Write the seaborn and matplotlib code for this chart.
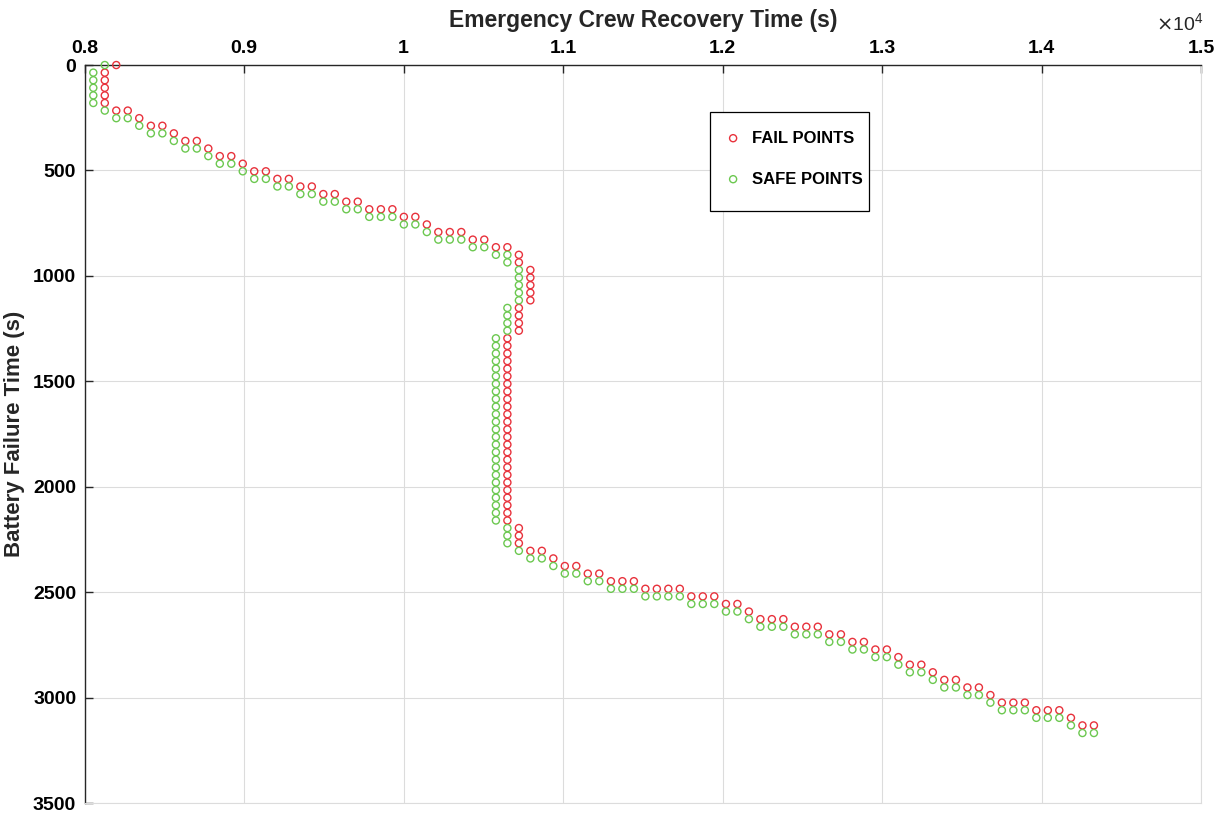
import numpy as np
import pandas as pd
import matplotlib
matplotlib.use('Agg')
import matplotlib.pyplot as plt
import matplotlib.patches as mpatches
import seaborn as sns

# 读图得到的边界点 (s)
fail_x = [8199, 8127, 8127, 8127, 8127, 8127,
          8199, 8271, 8343, 8416, 8488, 8560, 8632, 8704, 8776, 8848, 8920, 8992,
          9064, 9137, 9209, 9281, 9353, 9425, 9497, 9569, 9641, 9713, 9785, 9858,
          9930, 10002, 10074, 10146, 10218, 10290, 10362, 10434, 10506, 10579,
          10651, 10723, 10723,
          10795, 10795, 10795, 10795, 10795,
          10723, 10723, 10723, 10723,
          10651, 10651, 10651, 10651, 10651, 10651, 10651, 10651, 10651, 10651,
          10651, 10651, 10651, 10651, 10651, 10651, 10651, 10651, 10651, 10651,
          10651, 10651, 10651, 10651, 10651,
          10723, 10723, 10723,
          10795, 10867, 10939, 11011, 11083, 11155, 11227, 11300, 11372, 11444,
          11516, 11588, 11660, 11732, 11804, 11876, 11948, 12021, 12093, 12165,
          12237, 12309, 12381, 12453, 12525, 12597, 12669, 12742, 12814, 12886,
          12958, 13030, 13102, 13174, 13246, 13318, 13390, 13463, 13535, 13607,
          13679, 13751, 13823, 13895, 13967, 14039, 14111, 14184, 14256, 14328]
fail_y = [0, 36, 72, 108, 144, 180,
          216, 216, 252, 288, 288, 324, 360, 360, 396, 432, 432, 468,
          504, 504, 540, 540, 576, 576, 612, 612, 648, 648, 684, 684,
          684, 720, 720, 756, 792, 792, 792, 828, 828, 864,
          864, 900, 936,
          972, 1008, 1044, 1080, 1116,
          1152, 1188, 1224, 1260,
          1296, 1332, 1368, 1404, 1440, 1476, 1512, 1548, 1584, 1620,
          1656, 1692, 1728, 1764, 1800, 1836, 1872, 1908, 1944, 1980,
          2016, 2052, 2088, 2124, 2160,
          2196, 2232, 2268,
          2304, 2304, 2340, 2376, 2376, 2412, 2412, 2448, 2448, 2448,
          2484, 2484, 2484, 2484, 2520, 2520, 2520, 2556, 2556, 2592,
          2628, 2628, 2628, 2664, 2664, 2664, 2700, 2700, 2736, 2736,
          2772, 2772, 2808, 2844, 2844, 2880, 2916, 2916, 2952, 2952,
          2988, 3024, 3024, 3024, 3060, 3060, 3060, 3096, 3132, 3132]

safe_x = [8127, 8055, 8055, 8055, 8055, 8055, 8127,
          8199, 8271, 8343, 8416, 8488, 8560, 8632, 8704, 8776, 8848, 8920, 8992,
          9064, 9137, 9209, 9281, 9353, 9425, 9497, 9569, 9641, 9713, 9785, 9858,
          9930, 10002, 10074, 10146, 10218, 10290, 10362, 10434, 10506, 10579,
          10651, 10651,
          10723, 10723, 10723, 10723, 10723,
          10651, 10651, 10651, 10651,
          10579, 10579, 10579, 10579, 10579, 10579, 10579, 10579, 10579, 10579,
          10579, 10579, 10579, 10579, 10579, 10579, 10579, 10579, 10579, 10579,
          10579, 10579, 10579, 10579, 10579,
          10651, 10651, 10651,
          10723, 10795, 10867, 10939, 11011, 11083, 11155, 11227, 11300, 11372,
          11444, 11516, 11588, 11660, 11732, 11804, 11876, 11948, 12021, 12093,
          12165, 12237, 12309, 12381, 12453, 12525, 12597, 12669, 12742, 12814,
          12886, 12958, 13030, 13102, 13174, 13246, 13318, 13390, 13463, 13535,
          13607, 13679, 13751, 13823, 13895, 13967, 14039, 14111, 14184, 14256,
          14328]
safe_y = [0, 36, 72, 108, 144, 180, 216,
          252, 252, 288, 324, 324, 360, 396, 396, 432, 468, 468, 504,
          540, 540, 576, 576, 612, 612, 648, 648, 684, 684, 720, 720,
          720, 756, 756, 792, 828, 828, 828, 864, 864, 900,
          900, 936,
          972, 1008, 1044, 1080, 1116,
          1152, 1188, 1224, 1260,
          1296, 1332, 1368, 1404, 1440, 1476, 1512, 1548, 1584, 1620,
          1656, 1692, 1728, 1764, 1800, 1836, 1872, 1908, 1944, 1980,
          2016, 2052, 2088, 2124, 2160,
          2196, 2232, 2268,
          2304, 2340, 2340, 2376, 2412, 2412, 2448, 2448, 2484, 2484,
          2484, 2520, 2520, 2520, 2520, 2556, 2556, 2556, 2592, 2592,
          2628, 2664, 2664, 2664, 2700, 2700, 2700, 2736, 2736, 2772,
          2772, 2808, 2808, 2844, 2880, 2880, 2916, 2952, 2952, 2988,
          2988, 3024, 3060, 3060, 3060, 3096, 3096, 3096, 3132, 3168,
          3168]

x_ticks = [8000, 9000, 10000, 11000, 12000, 13000, 14000, 15000]
x_tick_labels = ['0.8', '0.9', '1', '1.1', '1.2', '1.3', '1.4', '1.5']
y_ticks = [0, 500, 1000, 1500, 2000, 2500, 3000, 3500]

sns.set_style('white')
plt.rcParams['font.family'] = ['Liberation Sans', 'DejaVu Sans']

df_fail = pd.DataFrame({'x': fail_x, 'y': fail_y})
df_safe = pd.DataFrame({'x': safe_x, 'y': safe_y})

fig = plt.figure(figsize=(12.25, 8.14), dpi=100)
ax = fig.add_axes([0.069, 0.0135, 0.9115, 0.9066])

red = '#e8323c'
green = '#6cc850'
sns.scatterplot(data=df_fail, x='x', y='y', ax=ax, marker='o', s=26,
                fc='none', ec=red, linewidth=1.0, label='FAIL POINTS',
                zorder=3, clip_on=False)
sns.scatterplot(data=df_safe, x='x', y='y', ax=ax, marker='o', s=26,
                fc='none', ec=green, linewidth=1.0, label='SAFE POINTS',
                zorder=3, clip_on=False)

ax.set_xlim(8000, 15000)
ax.set_ylim(3500, 0)
ax.xaxis.tick_top()
ax.xaxis.set_label_position('top')
ax.set_xticks(x_ticks)
ax.set_xticklabels(x_tick_labels)
ax.set_yticks(y_ticks)
ax.tick_params(axis='both', direction='in', length=6, width=1, colors='#262626',
               labelsize=14, pad=6, top=True, bottom=False, left=True, right=False)
for lab in ax.get_xticklabels() + ax.get_yticklabels():
    lab.set_fontweight('bold')
    lab.set_color('black')

ax.set_xlabel('Emergency Crew Recovery Time (s)', fontsize=16.5,
              fontweight='bold', labelpad=9)
ax.set_ylabel('Battery Failure Time (s)', fontsize=16,
              fontweight='bold', labelpad=6)

ax.grid(True, color='#dcdcdc', linewidth=0.8)
ax.set_axisbelow(True)
for side in ['left', 'top']:
    ax.spines[side].set_color('#262626')
    ax.spines[side].set_linewidth(1)
for side in ['right', 'bottom']:
    ax.spines[side].set_color('#dcdcdc')
    ax.spines[side].set_linewidth(0.8)

fig.text(1156 / 1225, 1 - 23 / 814, r'$\times\mathregular{10^4}$', fontsize=14,
         ha='left', va='center')

# 图例边框单独画
box = mpatches.Rectangle((0.5602, 0.8022), 0.1424, 0.1341, transform=ax.transAxes,
                         fill=True, facecolor='white', edgecolor='black',
                         linewidth=0.9, zorder=4)
ax.add_patch(box)
leg = ax.legend(loc='upper left', bbox_to_anchor=(0.5734, 0.9112), frameon=False,
                prop={'weight': 'bold', 'size': 12}, labelspacing=1.56,
                borderpad=0, borderaxespad=0, handletextpad=0.64,
                handlelength=1.0)
for t in leg.get_texts():
    t.set_fontweight('bold')
    t.set_color('black')
leg.set_zorder(5)

fig.savefig('out.png', dpi=100)
